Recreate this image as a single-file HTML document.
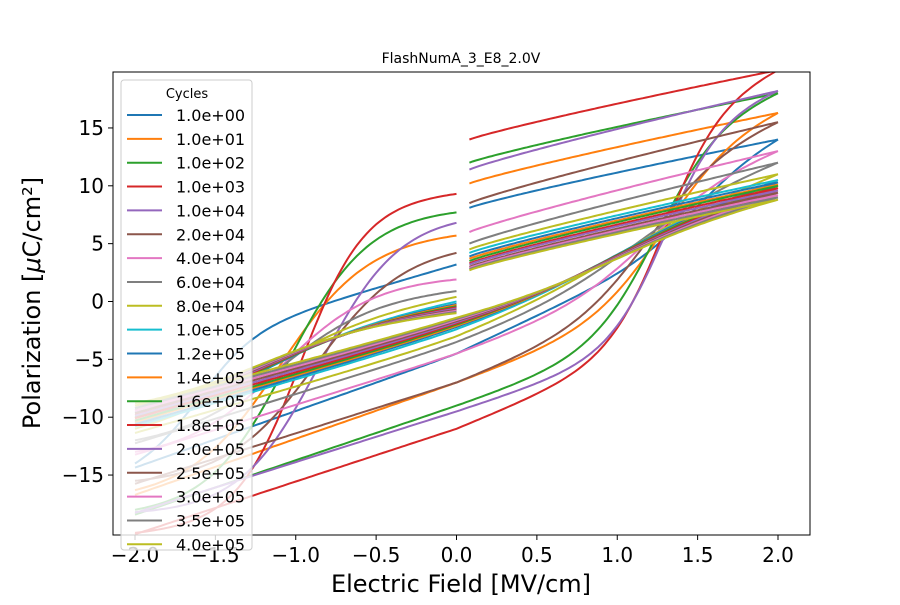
<!DOCTYPE html>
<html><head><meta charset="utf-8"><style>
body{margin:0;background:#fff}
svg{font-family:"DejaVu Sans","Liberation Sans",sans-serif}
</style></head><body>
<svg id="chart" width="900" height="600" xmlns="http://www.w3.org/2000/svg">
<defs><clipPath id="clip"><rect x="113" y="72" width="697" height="463"/></clipPath></defs>
<text x="461" y="63" text-anchor="middle" font-size="14">FlashNumA_3_E8_2.0V</text>
<g id="lines" clip-path="url(#clip)"></g>
<rect x="113" y="72" width="697" height="463" fill="none" stroke="#000" stroke-width="1"/>
<g id="xticks"></g>
<g id="yticks"></g>
<text x="461" y="592" text-anchor="middle" font-size="24">Electric Field [MV/cm]</text>
<text transform="translate(40,303) rotate(-90)" text-anchor="middle" font-size="24">Polarization [<tspan font-style="italic">μ</tspan>C/cm²]</text>
<g id="legend"></g>
</svg>
<script>
const labels=["1.0e+00","1.0e+01","1.0e+02","1.0e+03","1.0e+04","2.0e+04","4.0e+04","6.0e+04","8.0e+04","1.0e+05","1.2e+05","1.4e+05","1.6e+05","1.8e+05","2.0e+05","2.5e+05","3.0e+05","3.5e+05","4.0e+05"];
const pMax=[14,16.3,18,20,18.2,15.5,13,12,11,10.5,10.3,10.1,10,9.8,9.6,9.4,9.2,9,8.8];
const pLowZero=[-4.5,-7,-9,-11,-9.5,-7,-4.5,-3.5,-3,-2.4,-2.2,-2.1,-2.0,-1.9,-1.8,-1.7,-1.6,-1.5,-1.4];
const pUpZero=[3.2,5.7,7.7,9.3,6.8,4.2,1.9,0.9,0.4,0.0,-0.2,-0.3,-0.4,-0.5,-0.6,-0.7,-0.8,-0.9,-1.0];
const pUpRight=[8.1,10.2,12.0,14.0,11.4,8.5,6.0,5.0,4.5,4.2,3.9,3.7,3.5,3.3,3.2,3.0,2.9,2.8,2.7];
const coercive=[1.2,1.3,1.35,1.35,1.3,1.2,1.1,1.0,1.0,1.0,1.0,1.0,1.0,1.0,1.0,1.0,1.0,1.0,1.0];
const widthE=[0.5,0.4,0.35,0.25,0.25,0.4,0.5,0.6,0.7,0.7,0.75,0.75,0.75,0.75,0.75,0.75,0.75,0.75,0.75];
const ampRight=[3,7,9,10,9.5,6,4,3,2,2,2,2,2,2,2,2,2,2,2];
const coerciveRight=[1.5,1.3,1.25,1.3,1.3,1.2,1.2,1.1,1.0,1.0,1.0,1.0,1.0,1.0,1.0,1.0,1.0,1.0,1.0];
const widthRight=[0.4,0.45,0.4,0.35,0.35,0.45,0.5,0.6,0.7,0.7,0.7,0.7,0.7,0.7,0.7,0.7,0.7,0.7,0.7];
const ampLeft=[5,11,13,14,13,10,8,6,4,3,3,3,3,3,3,3,3,3,3];
const coerciveLeft=[1.6,1.1,1.05,0.97,0.85,0.87,1.1,1.1,1.2,1.2,1.2,1.2,1.2,1.2,1.2,1.2,1.2,1.2,1.2];
const widthLeft=[0.35,0.55,0.5,0.4,0.5,0.55,0.6,0.6,0.7,0.7,0.7,0.7,0.7,0.7,0.7,0.7,0.7,0.7,0.7];
const xTicks=[-2,-1.5,-1,-0.5,0,0.5,1,1.5,2];
const xTickLabels=["−2.0","−1.5","−1.0","−0.5","0.0","0.5","1.0","1.5","2.0"];
const yTicks=[-15,-10,-5,0,5,10,15];
const yTickLabels=["−15","−10","−5","0","5","10","15"];
const colors=["#1f77b4","#ff7f0e","#2ca02c","#d62728","#9467bd","#8c564b","#e377c2","#7f7f7f","#bcbd22","#17becf"];
const NS="http://www.w3.org/2000/svg";
const X=v=>456.5+v*160.75, Y=v=>301.5-v*11.57;
function mk(t,a,p){const e=document.createElementNS(NS,t);for(const k in a)e.setAttribute(k,a[k]);p.appendChild(e);return e;}
const g=document.getElementById('lines');
labels.forEach((lab,i)=>{
  const ec=coercive[i],w=widthE[i];
  const A=-pLowZero[i]/Math.tanh(ec/w);
  const k0=(pMax[i]-A*Math.tanh((2-ec)/w))/2;
  const lowNeg=E=>A*Math.tanh((E-ec)/w)+k0*E;
  const Br=ampRight[i],er=coerciveRight[i],wr=widthRight[i];
  const c2=pLowZero[i]+Br*Math.tanh(er/wr);
  const k=(pMax[i]-Br*Math.tanh((2-er)/wr)-c2)/2;
  const lowPos=E=>Br*Math.tanh((E-er)/wr)+k*E+c2;
  const low=E=>E<0?lowNeg(E):lowPos(E);
  const B=ampLeft[i],el=coerciveLeft[i],wl=widthLeft[i];
  const c=pUpZero[i]-B*Math.tanh(el/wl);
  const m=(pMax[i]-B*Math.tanh((2-el)/wl)+c)/2;
  const upL=E=>B*Math.tanh((E+el)/wl)+m*E+c;
  let pts=[];
  for(let s=0;s<=200;s++){const E=-2+s*0.02;pts.push(X(E).toFixed(1)+','+Y(low(E)).toFixed(1));}
  let up1=[],up2=[];
  for(let s=0;s<=96;s++){const E=2-s*0.02;const t=Math.max(0,(E-0.08)/1.92);const P=pUpRight[i]+(pMax[i]-pUpRight[i])*Math.pow(t,0.9);up1.push(X(E).toFixed(1)+','+Y(P).toFixed(1));}
  for(let s=0;s<=100;s++){const E=-s*0.02;up2.push(X(E).toFixed(1)+','+Y(upL(E)).toFixed(1));}
  const col=colors[i%10];
  const p=mk('path',{d:'M'+pts.join('L')+' M'+up1.join('L')+' M'+up2.join('L'),fill:'none',stroke:col,'stroke-width':2},g);
  
  
});
const xt=document.getElementById('xticks');
xTicks.forEach((v,i)=>{
  const l=mk('line',{x1:X(v),x2:X(v),y1:535,y2:540,stroke:'#000'},xt);
  
  
  const t=mk('text',{x:X(v),y:562,'text-anchor':'middle','font-size':20},xt);t.textContent=xTickLabels[i];
  
  
});
const yt=document.getElementById('yticks');
yTicks.forEach((v,i)=>{
  const l=mk('line',{x1:108,x2:113,y1:Y(v),y2:Y(v),stroke:'#000'},yt);
  
  
  const t=mk('text',{x:104,y:Y(v)+7,'text-anchor':'end','font-size':20},yt);t.textContent=yTickLabels[i];
  
  
});
const lg=document.getElementById('legend');
const bg=mk('rect',{x:121,y:80,width:131,height:470,rx:3,fill:'#fff','fill-opacity':0.8,stroke:'#ccc'},lg);


const tt=mk('text',{x:187,y:98,'text-anchor':'middle','font-size':13},lg);tt.textContent='Cycles';


labels.forEach((lab,i)=>{
  const y=115+i*23.85;
  const l=mk('line',{x1:127,x2:162,y1:y,y2:y,stroke:colors[i%10],'stroke-width':2},lg);
  
  
  const t=mk('text',{x:176,y:y+6,'font-size':16},lg);t.textContent=lab;
  
  
});
</script>
</body></html>
